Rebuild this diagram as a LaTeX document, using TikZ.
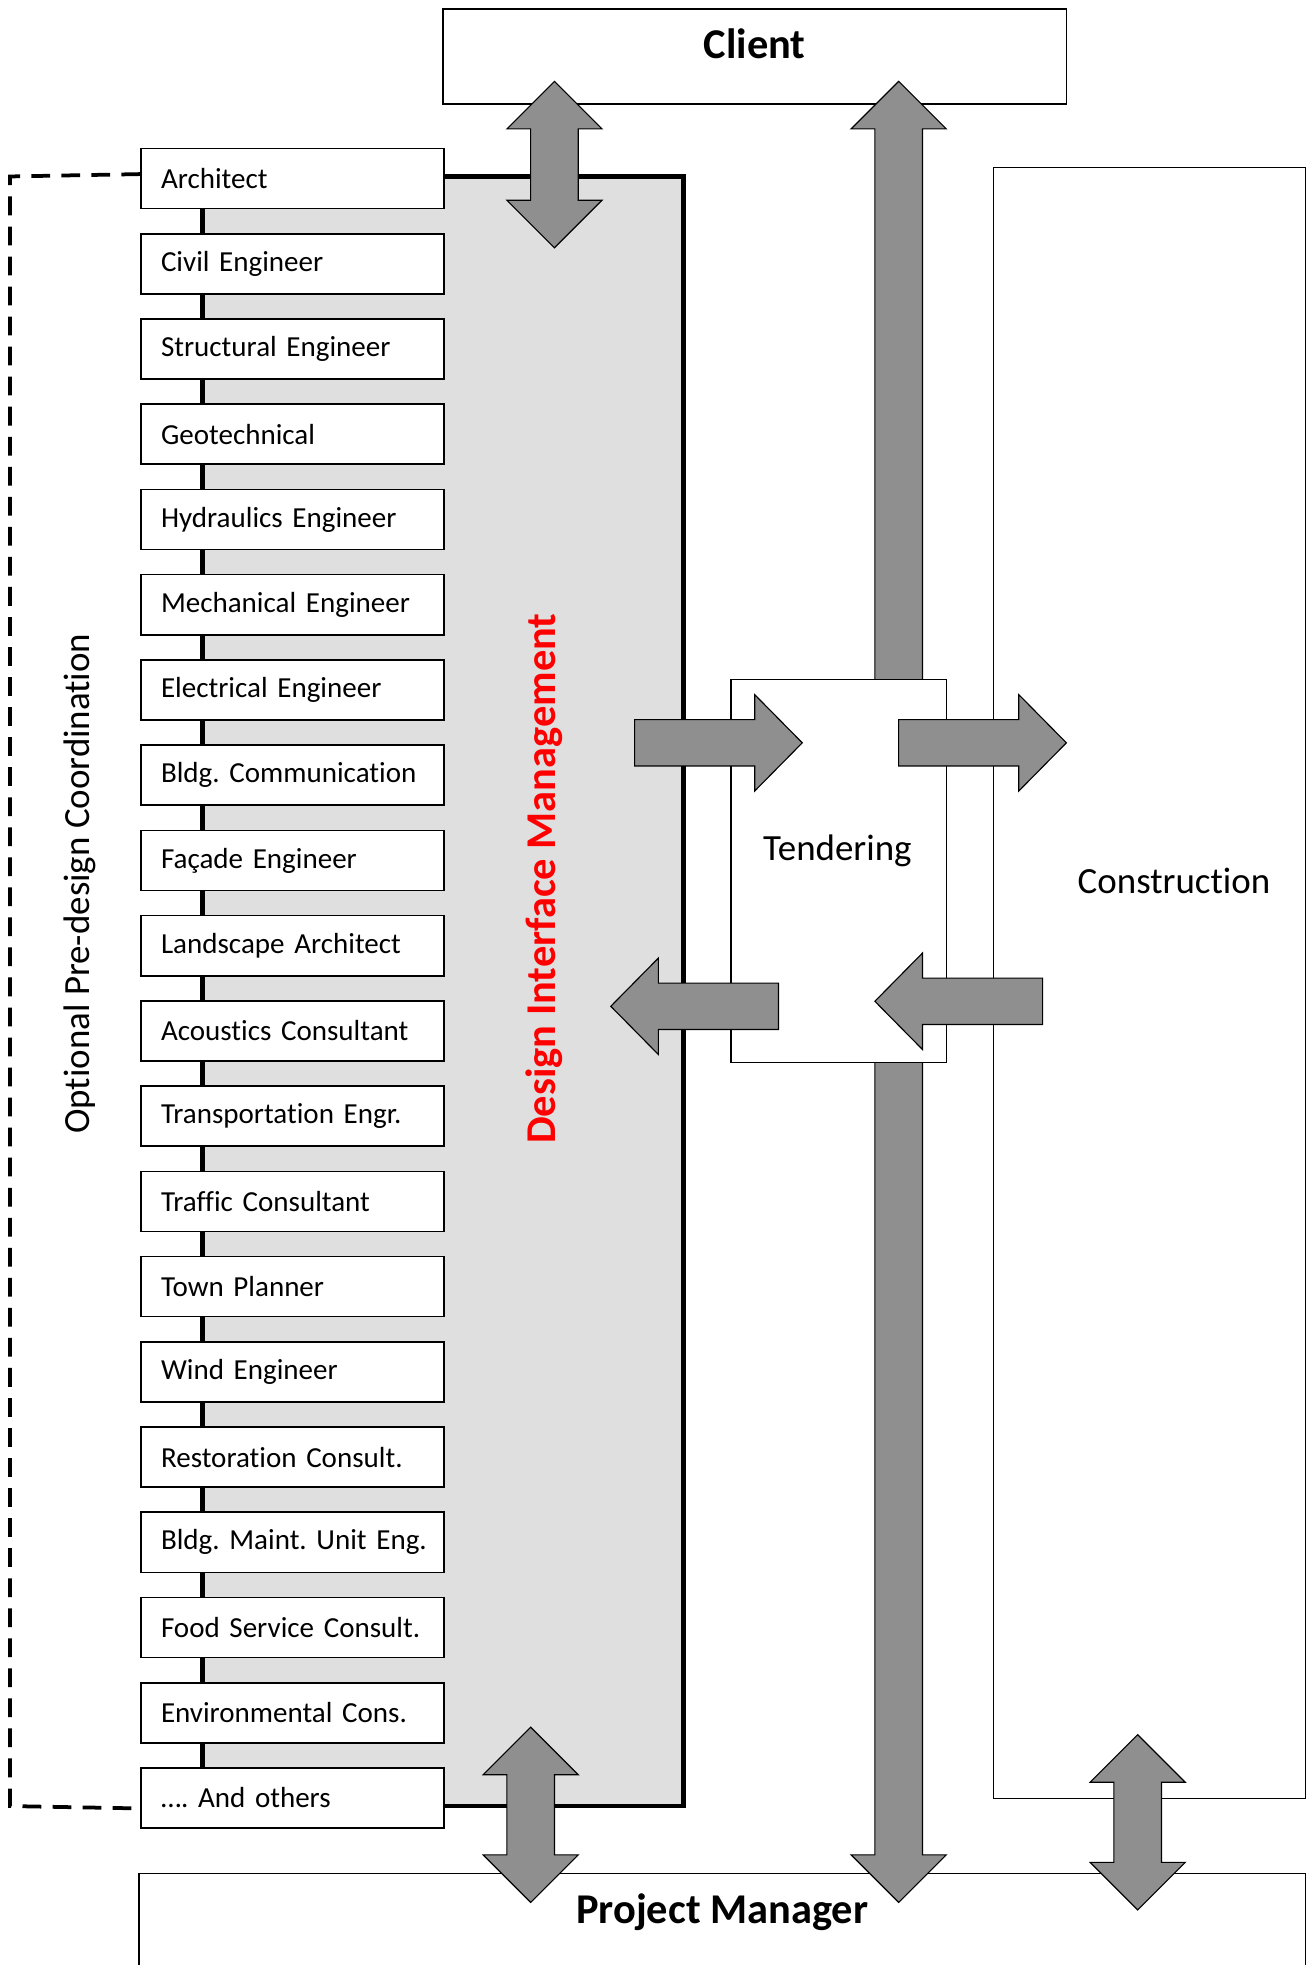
\documentclass[tikz,border=0pt]{standalone}
\usepackage{fontspec}
\setmainfont{Carlito}[Ligatures=NoCommon]
\frenchspacing
\definecolor{dimgray}{RGB}{223,223,223}
\definecolor{arrowgray}{RGB}{143,143,143}
\newcommand\VDArrow[3]{% x, top tip y, bottom tip y
  \draw[blockarrow] (#1,#2) -- ({#1+38},{#2+38}) -- ({#1+19},{#2+38}) -- ({#1+19},{#3-38})
    -- ({#1+38},{#3-38}) -- (#1,#3) -- ({#1-38},{#3-38}) -- ({#1-19},{#3-38})
    -- ({#1-19},{#2+38}) -- ({#1-38},{#2+38}) -- cycle;}
\newcommand\HRArrow[3]{% tail x, tip x, centre y
  \draw[blockarrow] (#1,{#3-18.5}) -- ({#2-38},{#3-18.5}) -- ({#2-38},{#3-38.5}) -- (#2,#3)
    -- ({#2-38},{#3+38.5}) -- ({#2-38},{#3+18.5}) -- (#1,{#3+18.5}) -- cycle;}
\newcommand\HLArrow[3]{% tail x, tip x, centre y
  \draw[blockarrow] (#1,{#3-18.5}) -- ({#2+38},{#3-18.5}) -- ({#2+38},{#3-38.5}) -- (#2,#3)
    -- ({#2+38},{#3+38.5}) -- ({#2+38},{#3+18.5}) -- (#1,{#3+18.5}) -- cycle;}
\begin{document}
\begin{tikzpicture}[x=1pt,y=-1pt,
  lbox/.style={draw, line width=1.3pt, fill=white, minimum width=242pt, minimum height=48pt,
    text width=210pt, inner xsep=16pt, inner ysep=0pt, align=left, anchor=north west,
    font=\fontsize{23.2}{28}\selectfont},
  plainbox/.style={draw, line width=1pt, fill=white, inner sep=0pt},
  blockarrow/.style={draw=black, line width=0.9pt, fill=arrowgray, line join=miter},
  midtext/.style={font=\fontsize{29.5}{35}\selectfont, inner sep=0pt},
  bigtext/.style={font=\bfseries\fontsize{33.9}{40}\selectfont, inner sep=0pt}]
\useasboundingbox (0,0) rectangle (1045,1570);
\clip (0,0) rectangle (1045,1570);

% design interface management panel
\node[draw, line width=3.8pt, fill=dimgray, minimum width=384pt, minimum height=1302pt, inner sep=0pt] (dim) at (354,792) {};

% consultant boxes
\foreach \t [count=\i] in {Architect, Civil Engineer, Structural Engineer, Geotechnical,
  Hydraulics Engineer, Mechanical Engineer, Electrical Engineer, Bldg. Communication,
  Façade Engineer, Landscape Architect, Acoustics Consultant, Transportation Engr.,
  Traffic Consultant, Town Planner, Wind Engineer, Restoration Consult.,
  Bldg. Maint. Unit Eng., Food Service Consult., Environmental Cons., …. And others}
  \node[lbox] (b\i) at (112,{118+68.1*(\i-1)}) {\mbox{\t}};

% optional pre-design coordination (dashed)
\draw[line width=3pt, dash pattern=on 15pt off 9pt] (b1.west |- dim.north) -- (8,141) -- (8,1443) -- (b20.west |- dim.south);

% main boxes
\node[plainbox, line width=1.3pt, minimum width=498pt, minimum height=76pt] (client) at (603,45) {};
\node[bigtext] (clientlabel) at (603,35) {Client};
\node[plainbox, minimum width=249pt, minimum height=1303pt] (constr) at (918.5,785.5) {};
\node[midtext] (constrlabel) at (938,704) {Construction};
\node[plainbox, line width=1.3pt, minimum width=932pt, minimum height=143pt] (pm) at (577,1568.5) {};
\node[bigtext] (pmlabel) at (577,1528) {Project Manager};

% long client <-> project manager arrow
\VDArrow{718}{65}{1520}

% tendering
\node[plainbox, minimum width=172pt, minimum height=306pt] (tender) at (670,696) {};
\node[midtext] (tenderlabel) at (669,680) {Tendering};

% horizontal arrows
\HRArrow{507}{641}{593.5}
\HRArrow{718}{852}{593.5}
\HLArrow{622}{488}{804}
\HLArrow{833}{699}{800}

% other vertical arrows
\VDArrow{443}{65}{198}
\VDArrow{424}{1380}{1520}
\VDArrow{909}{1386}{1526}

% rotated labels
\node[midtext, rotate=90] (optlabel) at (64,706) {Optional Pre-design Coordination};
\node[bigtext, rotate=90, text=red] (dimlabel) at (435,702) {Design Interface Management};
\end{tikzpicture}
\end{document}
